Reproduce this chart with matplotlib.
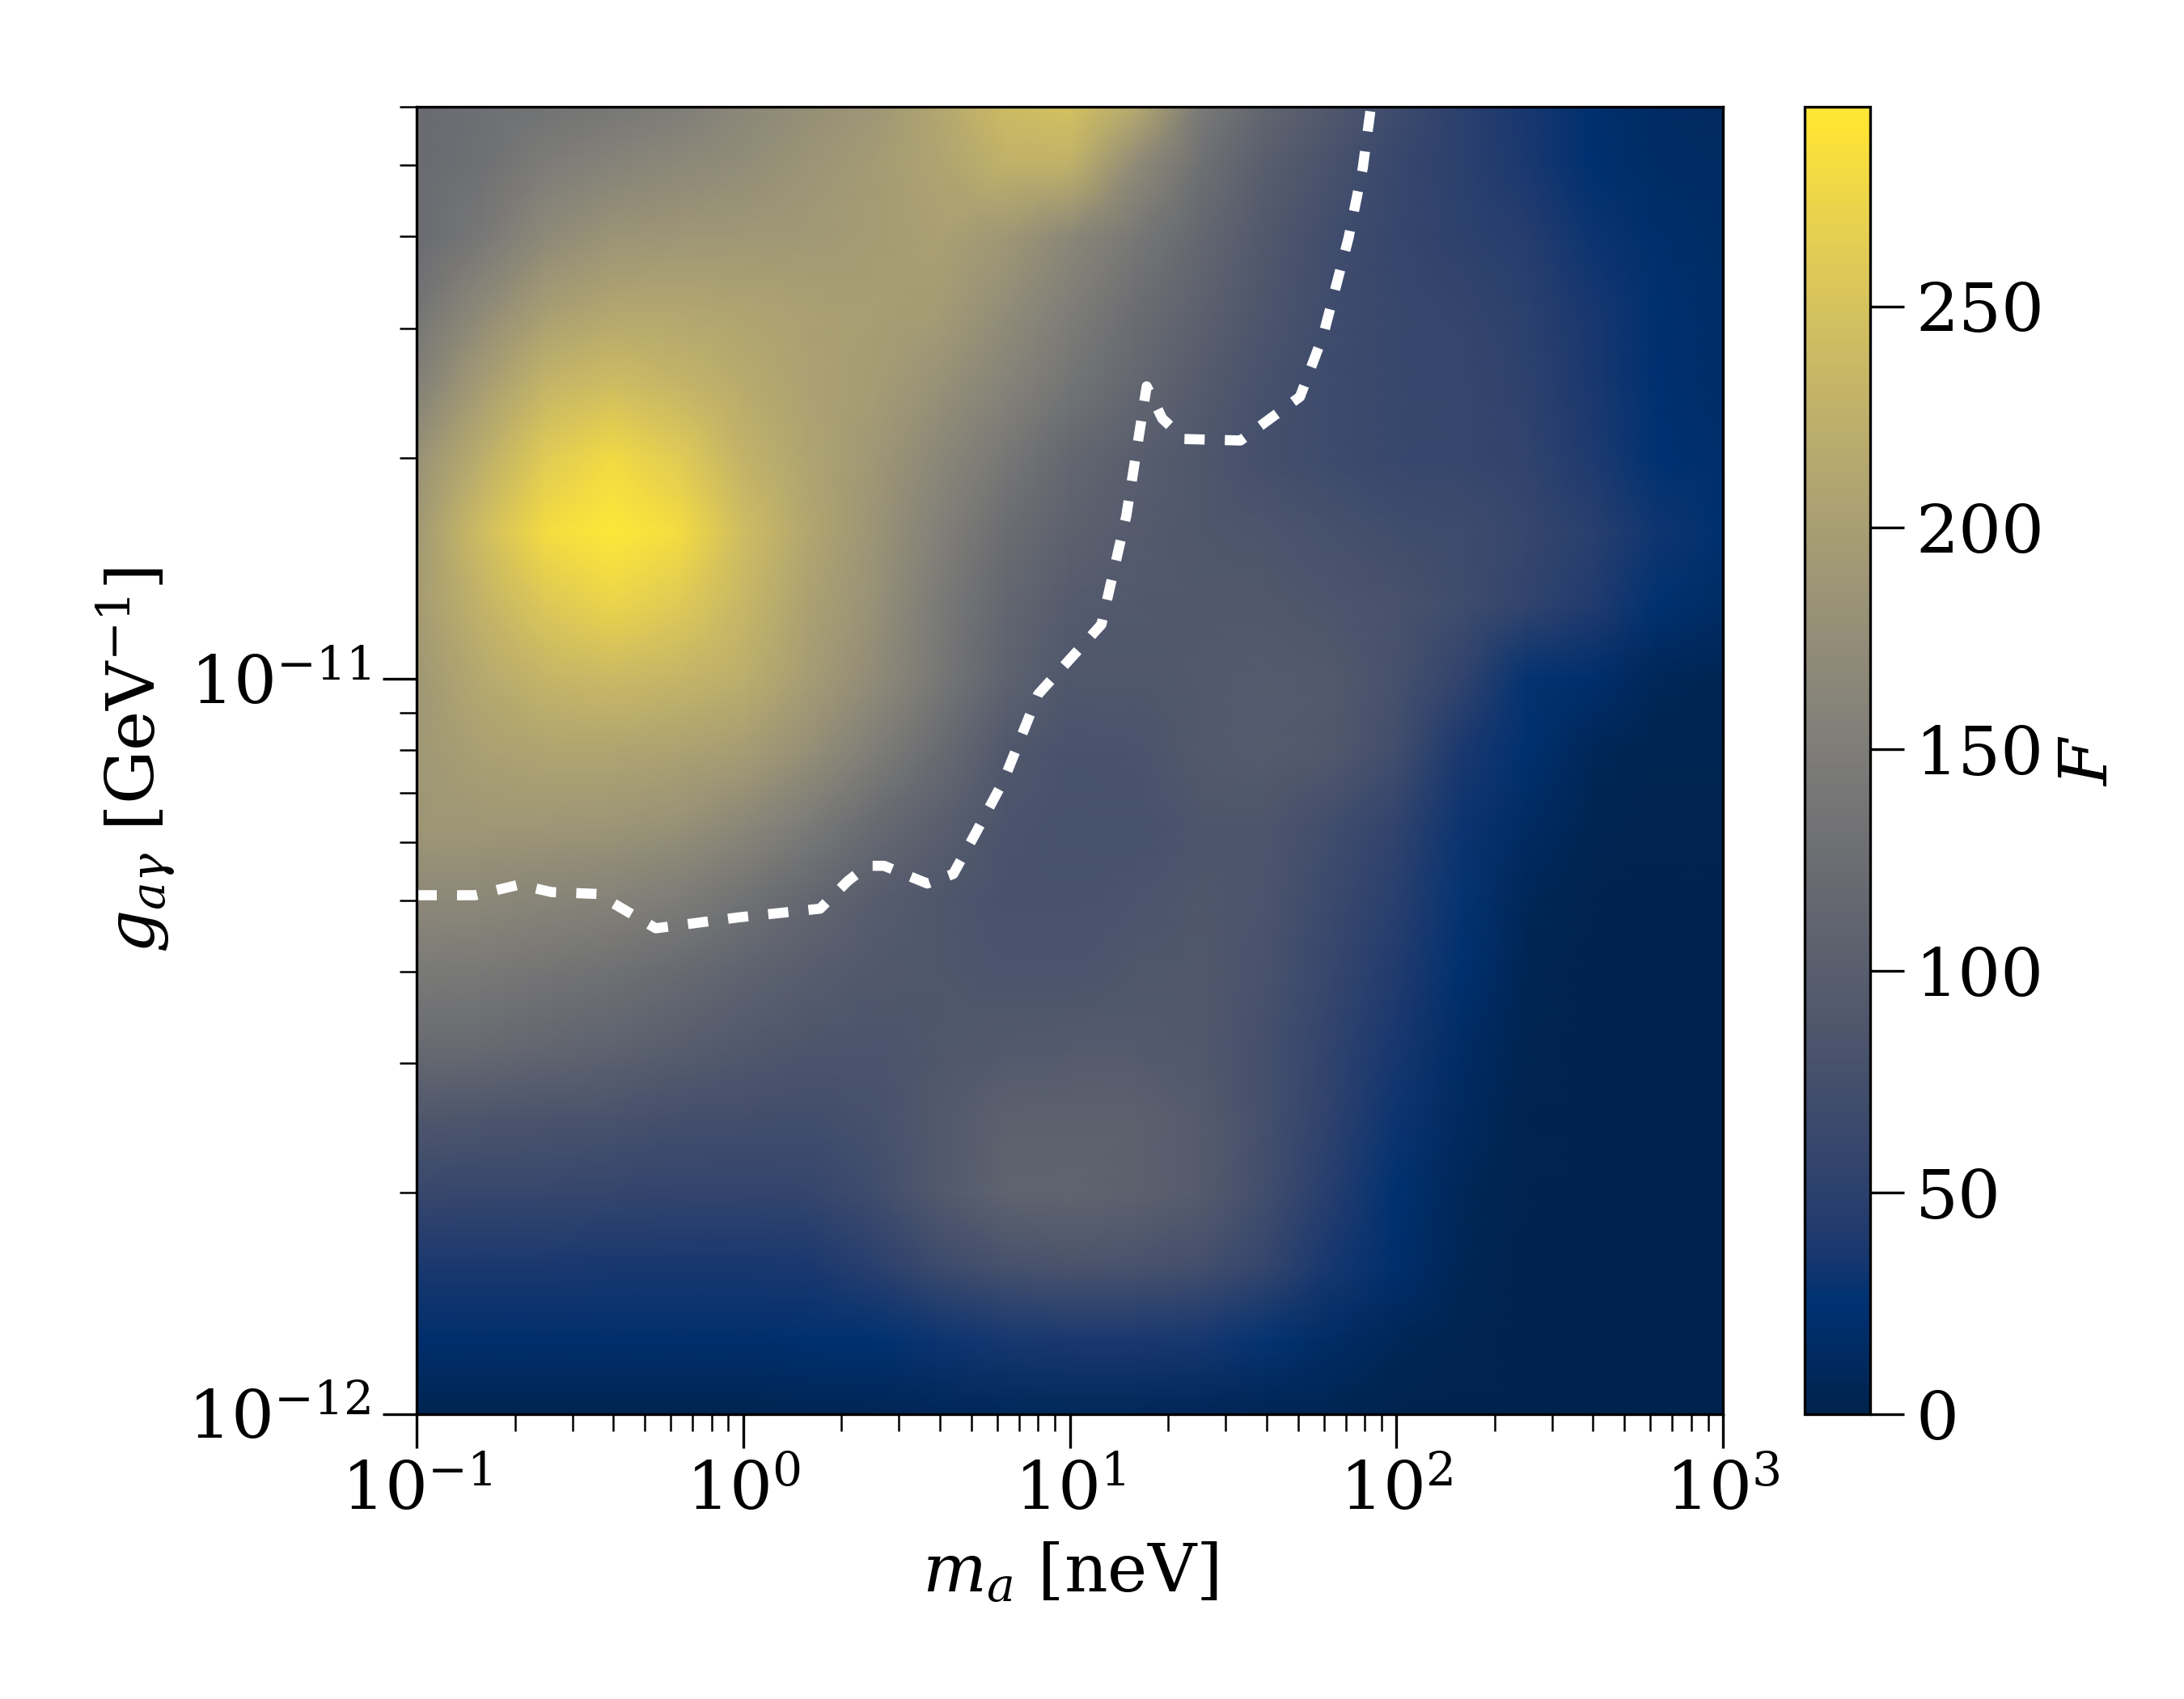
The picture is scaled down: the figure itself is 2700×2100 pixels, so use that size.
import numpy as np
import matplotlib
matplotlib.use('Agg')
import matplotlib.pyplot as plt
from matplotlib.ticker import LogLocator, NullFormatter

plt.rcParams['font.family'] = 'DejaVu Serif'
plt.rcParams['mathtext.fontset'] = 'dejavuserif'
plt.rcParams['font.size'] = 20

# grid nodes (log10 of the axes)
log_mass = [-1.0, -0.8, -0.6, -0.4, -0.2, 0.0, 0.2, 0.4, 0.6, 0.8, 1.0,
            1.2, 1.4, 1.6, 1.8, 2.0, 2.2, 2.4, 2.6, 2.8, 3.0]
log_coupling = [-12.0, -11.9, -11.8, -11.7, -11.6, -11.5, -11.4, -11.3, -11.2, -11.1,
                -11.0, -10.9, -10.8, -10.7, -10.6, -10.5, -10.4, -10.3, -10.222]

# F per row of coupling, bottom row first
F_rows = [
    [3, 3, 3, 3, 3, 3, 4, 5, 7, 9, 9, 9, 7, 5, 4, 2, 1, 1, 1, 1, 1],
    [20, 20, 20, 20, 20, 20, 22, 25, 30, 35, 38, 38, 35, 28, 16, 8, 3, 1, 1, 1, 1],
    [38, 38, 38, 36, 36, 36, 38, 48, 66, 78, 82, 80, 74, 58, 35, 20, 6, 1, 1, 1, 1],
    [62, 60, 60, 58, 56, 56, 58, 70, 92, 108, 110, 105, 95, 72, 45, 25, 8, 2, 1, 1, 1],
    [88, 85, 82, 80, 76, 74, 72, 78, 92, 104, 106, 104, 95, 75, 52, 30, 12, 2, 1, 1, 1],
    [122, 120, 114, 108, 100, 92, 86, 84, 88, 92, 94, 94, 90, 76, 55, 36, 15, 3, 1, 1, 1],
    [145, 142, 136, 130, 120, 108, 98, 90, 88, 84, 84, 88, 90, 80, 60, 42, 22, 5, 1, 1, 1],
    [168, 166, 162, 158, 148, 132, 115, 98, 88, 80, 80, 84, 88, 84, 65, 48, 28, 8, 2, 1, 1],
    [188, 190, 188, 186, 180, 165, 145, 120, 102, 84, 78, 78, 86, 86, 72, 55, 30, 14, 4, 2, 2],
    [190, 202, 208, 208, 205, 198, 178, 150, 122, 90, 80, 82, 92, 95, 90, 72, 38, 22, 8, 3, 3],
    [190, 215, 232, 238, 232, 222, 198, 172, 140, 108, 88, 88, 92, 95, 92, 78, 55, 28, 20, 8, 5],
    [195, 230, 258, 272, 260, 235, 205, 180, 145, 115, 95, 92, 90, 90, 85, 80, 70, 55, 42, 25, 15],
    [192, 242, 282, 295, 282, 242, 212, 185, 155, 125, 105, 95, 88, 85, 78, 72, 68, 60, 48, 32, 22],
    [180, 222, 262, 280, 262, 230, 208, 190, 165, 140, 115, 100, 88, 75, 68, 62, 60, 55, 40, 26, 20],
    [155, 198, 232, 242, 232, 218, 205, 198, 180, 160, 135, 115, 95, 78, 68, 62, 60, 52, 38, 24, 18],
    [135, 170, 200, 212, 212, 208, 202, 200, 195, 175, 150, 125, 105, 85, 70, 62, 58, 50, 36, 22, 18],
    [122, 142, 170, 185, 188, 190, 192, 197, 202, 190, 165, 140, 115, 90, 72, 60, 52, 45, 30, 20, 16],
    [122, 130, 148, 160, 168, 175, 185, 195, 208, 226, 226, 172, 130, 100, 80, 62, 50, 38, 24, 16, 14],
    [122, 128, 134, 140, 150, 165, 178, 188, 212, 240, 248, 215, 145, 112, 90, 68, 50, 36, 22, 14, 12],
]

# dashed limit curve
limit_mass = [0.1, 0.151, 0.206, 0.259, 0.358, 0.54, 0.97, 1.72, 2.09, 2.4, 2.7, 3.66, 4.4, 5.15,
              6.28, 8.0, 12.5, 14.9, 17.2, 19.2, 22.4, 33.3, 50.7, 59.8, 71.4, 78.9, 83.6]
limit_coupling = [5.08e-12, 5.08e-12, 5.25e-12, 5.13e-12, 5.1e-12, 4.58e-12, 4.74e-12, 4.87e-12,
                  5.31e-12, 5.57e-12, 5.57e-12, 5.27e-12, 5.43e-12, 6.17e-12, 7.28e-12, 9.53e-12,
                  1.186e-11, 1.667e-11, 2.5e-11, 2.26e-11, 2.12e-11, 2.11e-11, 2.42e-11, 2.94e-11,
                  3.98e-11, 4.95e-11, 6e-11]

mass_ticks = [1e-1, 1e0, 1e1, 1e2, 1e3]
coupling_ticks = [1e-12, 1e-11]
colorbar_ticks = [0, 50, 100, 150, 200, 250]

fig = plt.figure(figsize=(9, 7), dpi=300)
ax = fig.add_axes([515 / 2700, 1 - 1748 / 2100, 1615 / 2700, 1616 / 2100])
cax = fig.add_axes([2231 / 2700, 1 - 1748 / 2100, 81 / 2700, 1616 / 2100])

mass = 10.0 ** np.array(log_mass)
coupling = 10.0 ** np.array(log_coupling)
mesh = ax.pcolormesh(mass, coupling, np.array(F_rows), cmap='cividis', vmin=0, vmax=295,
                     shading='gouraud', rasterized=True)
ax.plot(limit_mass, limit_coupling, color='white', lw=3, dashes=(2.0, 2.0))

ax.set_xscale('log')
ax.set_yscale('log')
ax.set_xticks(mass_ticks)
ax.set_yticks(coupling_ticks)
ax.set_xlim(1e-1, 1e3)
ax.set_ylim(1e-12, 6e-11)
ax.yaxis.set_minor_locator(LogLocator(base=10, subs=np.arange(2, 10), numticks=10))
ax.yaxis.set_minor_formatter(NullFormatter())
ax.xaxis.set_minor_formatter(NullFormatter())
ax.tick_params(which='major', length=10, width=0.8, labelsize=20)
ax.tick_params(which='minor', length=5, width=0.6)
ax.set_xlabel(r'$m_a$ [neV]', fontsize=20, labelpad=5)
ax.set_ylabel(r'$g_{a\gamma}$ [GeV$^{-1}$]', fontsize=20, labelpad=3.3)

cbar = fig.colorbar(mesh, cax=cax, ticks=colorbar_ticks)
cbar.ax.tick_params(length=10, width=0.8, labelsize=20)
cbar.set_label(r'$F$', fontsize=20, labelpad=3.5)

fig.savefig('out.png', dpi=300)
